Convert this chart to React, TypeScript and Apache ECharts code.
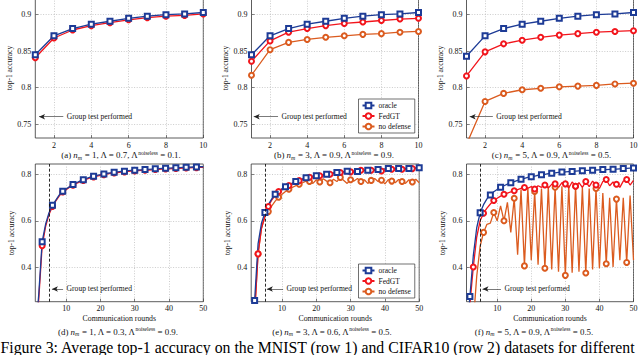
import { useEffect, useRef } from "react";
import * as echarts from "echarts";

// ---------------- Data ----------------
const roundsTop = [1, 2, 3, 4, 5, 6, 7, 8, 9, 10];
const roundsBottom = [
  1, 2, 3, 4, 5, 6, 7, 8, 9, 10, 11, 12, 13, 14, 15, 16, 17, 18, 19, 20, 21, 22, 23, 24, 25,
  26, 27, 28, 29, 30, 31, 32, 33, 34, 35, 36, 37, 38, 39, 40, 41, 42, 43, 44, 45, 46, 47, 48, 49, 50,
];

const xTicksTop = [2, 4, 6, 8, 10];
const xTicksBottom = [10, 20, 30, 40, 50];
const yTicksTop = [0.75, 0.8, 0.85, 0.9];
const yTicksBottom = [0.4, 0.6, 0.8];

const seriesNames = ["oracle", "FedGT", "no defense"];

// (a) MNIST n_m = 1
const aOracle = [0.845, 0.871, 0.881, 0.887, 0.891, 0.895, 0.898, 0.9, 0.901, 0.903];
const aFedGT = [0.841, 0.868, 0.879, 0.885, 0.889, 0.893, 0.896, 0.898, 0.899, 0.901];
// (b) MNIST n_m = 3
const bOracle = [0.845, 0.871, 0.881, 0.887, 0.891, 0.895, 0.898, 0.9, 0.901, 0.903];
const bFedGT = [0.836, 0.864, 0.876, 0.881, 0.885, 0.888, 0.89, 0.892, 0.894, 0.895];
const bNoDefense = [0.817, 0.852, 0.862, 0.866, 0.869, 0.871, 0.873, 0.874, 0.876, 0.877];
// (c) MNIST n_m = 5
const cOracle = [0.843, 0.871, 0.881, 0.887, 0.891, 0.895, 0.898, 0.9, 0.901, 0.903];
const cFedGT = [0.816, 0.849, 0.86, 0.865, 0.869, 0.872, 0.874, 0.876, 0.877, 0.878];
const cNoDefense = [0.722, 0.781, 0.792, 0.797, 0.799, 0.801, 0.802, 0.803, 0.805, 0.806];

// (d) CIFAR10 n_m = 1
const dOracle = [
  0.1, 0.28, 0.51, 0.585, 0.635, 0.667, 0.69, 0.712, 0.728, 0.738,
  0.748, 0.757, 0.765, 0.772, 0.778, 0.784, 0.789, 0.793, 0.797, 0.8,
  0.803, 0.806, 0.808, 0.81, 0.812, 0.814, 0.815, 0.817, 0.818, 0.819,
  0.82, 0.821, 0.822, 0.823, 0.824, 0.825, 0.826, 0.827, 0.828, 0.828,
  0.829, 0.83, 0.83, 0.831, 0.832, 0.832, 0.833, 0.833, 0.834, 0.834,
];
const dFedGT = [
  0.09, 0.26, 0.492, 0.575, 0.628, 0.662, 0.686, 0.708, 0.725, 0.735,
  0.745, 0.754, 0.762, 0.769, 0.775, 0.781, 0.786, 0.79, 0.794, 0.797,
  0.8, 0.803, 0.805, 0.807, 0.809, 0.811, 0.812, 0.814, 0.815, 0.816,
  0.817, 0.818, 0.819, 0.82, 0.821, 0.822, 0.823, 0.824, 0.825, 0.825,
  0.826, 0.827, 0.827, 0.828, 0.829, 0.829, 0.83, 0.83, 0.831, 0.831,
];
// (e) CIFAR10 n_m = 3
const eOracle = [
  0.12, 0.255, 0.5, 0.59, 0.636, 0.67, 0.695, 0.715, 0.728, 0.739,
  0.748, 0.756, 0.763, 0.77, 0.776, 0.782, 0.787, 0.79, 0.793, 0.795,
  0.798, 0.8, 0.802, 0.805, 0.807, 0.809, 0.811, 0.813, 0.815, 0.815,
  0.814, 0.814, 0.816, 0.818, 0.819, 0.82, 0.821, 0.822, 0.823, 0.825,
  0.827, 0.827, 0.826, 0.827, 0.827, 0.827, 0.827, 0.828, 0.829, 0.83,
];
const eFedGT = [
  0.1, 0.2, 0.457, 0.568, 0.62, 0.662, 0.69, 0.71, 0.727, 0.738,
  0.746, 0.753, 0.76, 0.768, 0.774, 0.779, 0.785, 0.789, 0.79, 0.792,
  0.795, 0.797, 0.8, 0.802, 0.805, 0.808, 0.809, 0.811, 0.81, 0.812,
  0.81, 0.815, 0.819, 0.818, 0.815, 0.819, 0.82, 0.818, 0.816, 0.82,
  0.822, 0.823, 0.82, 0.822, 0.823, 0.822, 0.825, 0.826, 0.828, 0.828,
];
const eNoDefense = [
  0.1, 0.2, 0.457, 0.568, 0.62, 0.64, 0.665, 0.685, 0.702, 0.715,
  0.727, 0.737, 0.745, 0.752, 0.758, 0.765, 0.772, 0.77, 0.762, 0.778,
  0.768, 0.782, 0.772, 0.765, 0.78, 0.77, 0.788, 0.775, 0.762, 0.778,
  0.772, 0.783, 0.77, 0.778, 0.762, 0.775, 0.783, 0.77, 0.776, 0.76,
  0.778, 0.772, 0.765, 0.779, 0.77, 0.762, 0.778, 0.768, 0.78, 0.765,
];
// (f) CIFAR10 n_m = 5
const fOracle = [
  0.1, 0.272, 0.45, 0.57, 0.635, 0.67, 0.695, 0.712, 0.726, 0.736,
  0.745, 0.752, 0.759, 0.765, 0.77, 0.775, 0.78, 0.784, 0.788, 0.791,
  0.794, 0.797, 0.799, 0.801, 0.804, 0.806, 0.808, 0.81, 0.811, 0.812,
  0.813, 0.814, 0.815, 0.816, 0.817, 0.818, 0.818, 0.819, 0.82, 0.821,
  0.822, 0.822, 0.823, 0.823, 0.824, 0.825, 0.826, 0.827, 0.828, 0.829,
];
const fFedGT = [
  0.1, 0.24, 0.4, 0.53, 0.6, 0.633, 0.655, 0.673, 0.688, 0.698,
  0.707, 0.715, 0.72, 0.725, 0.73, 0.735, 0.74, 0.744, 0.741, 0.748,
  0.738, 0.752, 0.745, 0.755, 0.742, 0.758, 0.76, 0.745, 0.765, 0.76,
  0.742, 0.768, 0.75, 0.765, 0.745, 0.77, 0.748, 0.772, 0.755, 0.74,
  0.77, 0.779, 0.752, 0.768, 0.758, 0.745, 0.772, 0.779, 0.755, 0.775,
];
const fNoDefense = [
  0.06, 0.12, 0.16, 0.36, 0.49, 0.55, 0.585, 0.59, 0.636, 0.6,
  0.665, 0.6, 0.68, 0.55, 0.698, 0.453, 0.735, 0.405, 0.745, 0.43,
  0.727, 0.41, 0.74, 0.395, 0.75, 0.39, 0.745, 0.38, 0.75, 0.364,
  0.755, 0.375, 0.75, 0.38, 0.745, 0.374, 0.74, 0.39, 0.74, 0.395,
  0.72, 0.414, 0.7, 0.4, 0.694, 0.43, 0.7, 0.42, 0.71, 0.43,
];

// Texts
const yAxisTitle = "top-1 accuracy";
const xAxisTitleBottom = "Communication rounds";
const groupTestText = "Group test performed";
const figureCaption =
  "Figure 3: Average top-1 accuracy on the MNIST (row 1) and CIFAR10 (row 2) datasets for different";
const subCaptions = [
  { tag: "(a)", nm: "1", lam: "0.7", lamNl: "0.1" },
  { tag: "(b)", nm: "3", lam: "0.9", lamNl: "0.9" },
  { tag: "(c)", nm: "5", lam: "0.9", lamNl: "0.5" },
  { tag: "(d)", nm: "1", lam: "0.3", lamNl: "0.9" },
  { tag: "(e)", nm: "3", lam: "0.6", lamNl: "0.5" },
  { tag: "(f)", nm: "5", lam: "0.9", lamNl: "0.5" },
];

// ---------------- Styling / layout ----------------
const FONT = "'Liberation Serif', 'Times New Roman', serif";
const COLOR: Record<string, string> = {
  oracle: "#1d3b96",
  FedGT: "#f2151c",
  "no defense": "#db5b1f",
};
const SYMBOL: Record<string, string> = {
  oracle: "emptyRect",
  FedGT: "emptyCircle",
  "no defense": "emptyCircle",
};

type SeriesSpec = { name: string; values: number[]; step: number; phase: number };
type PanelSpec = {
  left: number;
  top: number;
  width: number;
  height: number;
  xMin: number;
  xMax: number;
  yMin: number;
  yMax: number;
  rounds: number[];
  xTicks: number[];
  yTicks: number[];
  series: SeriesSpec[];
  arrow: [number, number, number];
  dashedX?: number;
  xName?: string;
  legendTop?: number;
  capX: number;
  capY: number;
};

const TOP = { top: -2, height: 140, yMin: 0.7308, yMax: 0.9229 };
const BOT = { top: 164, height: 137.7, yMin: 0.25, yMax: 0.846 };

const panels: PanelSpec[] = [
  {
    left: 35.3, width: 168, ...TOP, xMin: 1, xMax: 10, rounds: roundsTop,
    xTicks: xTicksTop, yTicks: yTicksTop,
    series: [
      { name: "FedGT", values: aFedGT, step: 1, phase: 0 },
      { name: "oracle", values: aOracle, step: 1, phase: 0 },
    ],
    arrow: [1.2, 2.5, 0.76], capX: 121, capY: 155,
  },
  {
    left: 251.5, width: 167, ...TOP, xMin: 1, xMax: 10, rounds: roundsTop,
    xTicks: xTicksTop, yTicks: yTicksTop,
    series: [
      { name: "no defense", values: bNoDefense, step: 1, phase: 0 },
      { name: "FedGT", values: bFedGT, step: 1, phase: 0 },
      { name: "oracle", values: bOracle, step: 1, phase: 0 },
    ],
    arrow: [1.12, 2.43, 0.76], legendTop: 99, capX: 334, capY: 155,
  },
  {
    left: 466.5, width: 167, ...TOP, xMin: 1, xMax: 10, rounds: roundsTop,
    xTicks: xTicksTop, yTicks: yTicksTop,
    series: [
      { name: "no defense", values: cNoDefense, step: 1, phase: 0 },
      { name: "FedGT", values: cFedGT, step: 1, phase: 0 },
      { name: "oracle", values: cOracle, step: 1, phase: 0 },
    ],
    arrow: [1.17, 2.42, 0.76], capX: 551.5, capY: 155,
  },
  {
    left: 35.3, width: 168, ...BOT, xMin: 1, xMax: 50, rounds: roundsBottom,
    xTicks: xTicksBottom, yTicks: yTicksBottom,
    series: [
      { name: "FedGT", values: dFedGT, step: 3, phase: 0 },
      { name: "oracle", values: dOracle, step: 3, phase: 0 },
    ],
    arrow: [5.85, 9.1, 0.305], dashedX: 5, xName: xAxisTitleBottom, capX: 118, capY: 331.5,
  },
  {
    left: 251.2, width: 168, ...BOT, xMin: 1, xMax: 50, rounds: roundsBottom,
    xTicks: xTicksBottom, yTicks: yTicksBottom,
    series: [
      { name: "no defense", values: eNoDefense, step: 3, phase: 0 },
      { name: "FedGT", values: eFedGT, step: 3, phase: 0 },
      { name: "oracle", values: eOracle, step: 3, phase: 2 },
    ],
    arrow: [5.57, 10.3, 0.305], dashedX: 5, xName: xAxisTitleBottom, legendTop: 264,
    capX: 332, capY: 331.5,
  },
  {
    left: 466.5, width: 167, ...BOT, xMin: 1, xMax: 50, rounds: roundsBottom,
    xTicks: xTicksBottom, yTicks: yTicksBottom,
    series: [
      { name: "no defense", values: fNoDefense, step: 3, phase: 0 },
      { name: "FedGT", values: fFedGT, step: 3, phase: 0 },
      { name: "oracle", values: fOracle, step: 3, phase: 2 },
    ],
    arrow: [5.7, 11.1, 0.305], dashedX: 5, xName: xAxisTitleBottom, capX: 534, capY: 331.5,
  },
];

const fmt = (v: number) => String(+Number(v).toFixed(2));

function buildOption() {
  const grid = panels.map((p) => ({
    left: p.left,
    top: p.top,
    width: p.width,
    height: p.height,
    show: true,
    borderColor: "#333",
    borderWidth: 0.8,
    backgroundColor: "transparent",
    containLabel: false,
    outerBoundsMode: "none",
  }));

  const splitLine = {
    show: true,
    lineStyle: { type: [1, 1.6], color: "#aaaaaa", width: 0.6 },
  };

  const xAxis = panels.map((p, i) => ({
    gridIndex: i,
    type: "value",
    min: p.xMin,
    max: p.xMax,
    axisLine: { show: false },
    axisTick: {
      show: true,
      inside: true,
      length: 3,
      customValues: p.xTicks,
      lineStyle: { color: "#333", width: 0.6 },
    },
    axisLabel: {
      customValues: p.xTicks,
      fontSize: 8,
      color: "#111",
      fontFamily: FONT,
      margin: 3,
      formatter: fmt,
    },
    splitLine,
    name: p.xName || "",
    nameLocation: "middle",
    nameGap: 12.5,
    nameTextStyle: { fontSize: 7.8, color: "#111", fontFamily: FONT },
  }));

  const yAxis = panels.map((p, i) => ({
    gridIndex: i,
    type: "value",
    min: p.yMin,
    max: p.yMax,
    axisLine: { show: false },
    axisTick: {
      show: true,
      inside: true,
      length: 3,
      customValues: p.yTicks,
      lineStyle: { color: "#333", width: 0.6 },
    },
    axisLabel: {
      customValues: p.yTicks,
      fontSize: 8,
      color: "#111",
      fontFamily: FONT,
      margin: 4,
      formatter: fmt,
    },
    splitLine,
    name: yAxisTitle,
    nameLocation: "middle",
    nameGap: 20,
    nameRotate: 90,
    nameTextStyle: { fontSize: 7.5, color: "#111", fontFamily: FONT },
  }));

  const series: any[] = [];
  panels.forEach((p, i) => {
    p.series.forEach((s, k) => {
      const markLineData: any[] = [];
      if (k === 0) {
        markLineData.push([
          {
            coord: [p.arrow[0], p.arrow[2]],
            symbol: "arrow",
            symbolSize: [4, 6],
            lineStyle: { color: "#222", width: 0.6, type: "solid" },
            label: {
              show: true,
              position: "end",
              formatter: groupTestText,
              fontSize: 7.6,
              color: "#111",
              fontFamily: FONT,
              distance: 3.5,
            },
          },
          { coord: [p.arrow[1], p.arrow[2]], symbol: "none" },
        ]);
        if (p.dashedX !== undefined) {
          markLineData.push({
            xAxis: p.dashedX,
            symbol: "none",
            lineStyle: { color: "#111", width: 0.9, type: [3, 2] },
            label: { show: false },
          });
        }
      }
      series.push({
        type: "line",
        name: s.name,
        xAxisIndex: i,
        yAxisIndex: i,
        data: p.rounds.map((r, j) => [r, s.values[j]]),
        color: COLOR[s.name],
        lineStyle: { color: COLOR[s.name], width: 1.3 },
        itemStyle: { color: COLOR[s.name], borderColor: COLOR[s.name], borderWidth: 1.1 },
        symbol: SYMBOL[s.name],
        symbolSize: (val: number[]) => (val[0] % s.step === s.phase ? 5 : 0),
        showSymbol: true,
        clip: true,
        silent: true,
        emphasis: { disabled: true },
        markLine:
          markLineData.length > 0
            ? { silent: true, symbol: "none", animation: false, data: markLineData }
            : undefined,
      });
    });
  });

  const legend = panels
    .filter((p) => p.legendTop !== undefined)
    .map((p) => ({
      show: true,
      data: seriesNames,
      orient: "vertical",
      left: 358.5,
      top: p.legendTop,
      itemWidth: 12,
      itemHeight: 7,
      itemGap: 2.5,
      padding: [2.5, 4, 2.5, 3],
      backgroundColor: "#fff",
      borderColor: "#333",
      borderWidth: 0.7,
      borderRadius: 0,
      selectedMode: false,
      textStyle: { fontSize: 7.5, color: "#111", fontFamily: FONT, padding: [0, 0, 0, -1] },
    }));

  const graphic: any[] = subCaptions.map((c, i) => ({
    type: "text",
    x: panels[i].capX,
    y: panels[i].capY,
    silent: true,
    style: {
      text: `{t|${c.tag} }{i|n}{s|m}{t| = ${c.nm}, Λ = ${c.lam}, Λ}{p|noiseless}{t| = ${c.lamNl}.}`,
      align: "center",
      verticalAlign: "middle",
      fill: "#111",
      rich: {
        t: { fontSize: 8.9, fontFamily: FONT, fill: "#111", lineHeight: 11 },
        i: { fontSize: 8.9, fontFamily: FONT, fontStyle: "italic", fill: "#111", lineHeight: 11 },
        s: { fontSize: 5.9, fontFamily: FONT, fontStyle: "italic", fill: "#111", verticalAlign: "bottom" },
        p: { fontSize: 5.5, fontFamily: FONT, fill: "#111", verticalAlign: "top" },
      },
    },
  }));
  graphic.push({
    type: "text",
    x: 0.5,
    y: 347,
    silent: true,
    style: {
      text: figureCaption,
      fontSize: 15.8,
      fontFamily: FONT,
      fill: "#000",
      align: "left",
      verticalAlign: "middle",
    },
  });

  return {
    animation: false,
    backgroundColor: "#ffffff",
    textStyle: { fontFamily: FONT },
    tooltip: { show: false },
    grid,
    xAxis,
    yAxis,
    legend,
    series,
    graphic,
  };
}

export default function App() {
  const ref = useRef<HTMLDivElement>(null);
  useEffect(() => {
    document.body.style.margin = "0";
    document.documentElement.style.margin = "0";
    if (!ref.current) return;
    const chart = echarts.init(ref.current, undefined, { renderer: "svg", width: 640, height: 355 });
    chart.setOption(buildOption() as any);
    return () => chart.dispose();
  }, []);
  return (
    <div
      ref={ref}
      style={{ width: 640, height: 355, background: "#fff", overflow: "hidden" }}
    />
  );
}
